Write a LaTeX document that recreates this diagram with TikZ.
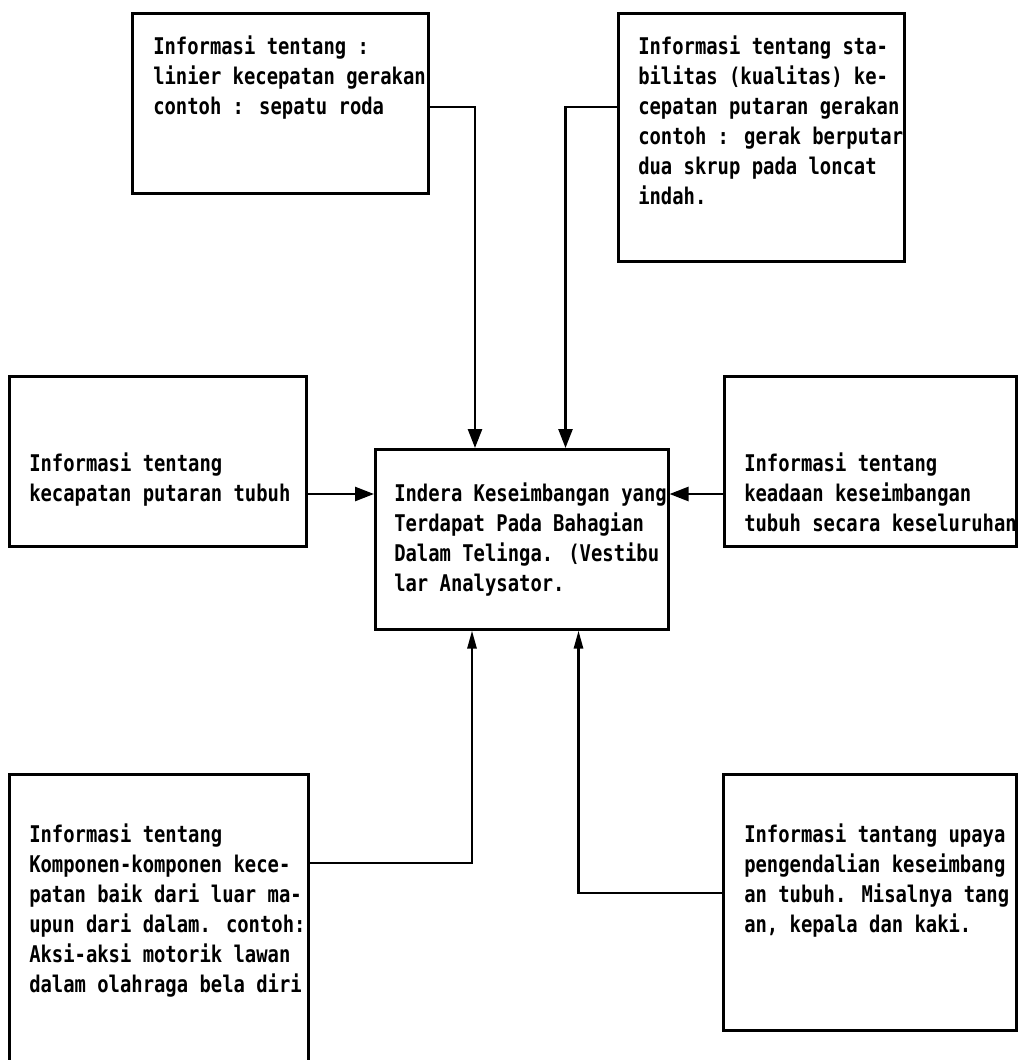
\documentclass[tikz,border=0pt]{standalone}
\usepackage{fontspec}
\usetikzlibrary{arrows.meta,positioning,calc}
\newfontfamily\ketik[FakeStretch=0.82]{DejaVu Sans Mono}

\begin{document}
\begin{tikzpicture}[x=1pt,y=-1pt,line width=2.5pt,
  kotak/.style={draw,inner sep=0pt,anchor=north west},
  teks/.style={font=\ketik\bfseries\fontsize{23}{30}\selectfont,align=left,inner sep=0pt,anchor=north west},
  panah/.style={-{Triangle[length=19pt,width=14pt]},line width=2.6pt},
  panahkecil/.style={-{Triangle[length=18pt,width=9pt]},line width=2.6pt}]
\path[use as bounding box,clip] (0,0) rectangle (1018,1060);
\fill[white] (0,0) rectangle (1018,1060);
% kotak informasi
\node[kotak,minimum width=296pt,minimum height=180pt] (linier) at (131,12) {};
\node[kotak,minimum width=286pt,minimum height=248pt] (stabil) at (617,12) {};
\node[kotak,minimum width=297pt,minimum height=170pt] (putar) at (8,375) {};
\node[kotak,minimum width=293pt,minimum height=180pt] (indera) at (374,448) {};
\node[kotak,minimum width=292pt,minimum height=170pt] (keadaan) at (723,375) {};
\node[kotak,minimum width=299pt,minimum height=291pt] (komponen) at (8,773) {};
\node[kotak,minimum width=293pt,minimum height=256pt] (kendali) at (722,773) {};
% isi kotak
\node[teks] (tlinier) at ([shift={(21,23)}]linier.north west) {Informasi tentang :\\linier kecepatan gerakan\\contoh : sepatu roda};
\node[teks] (tstabil) at ([shift={(20,23)}]stabil.north west) {Informasi tentang sta-\\bilitas (kualitas) ke-\\cepatan putaran gerakan\\contoh : gerak berputar\\dua skrup pada loncat\\indah.};
\node[teks] (tputar) at ([shift={(20,77)}]putar.north west) {Informasi tentang\\kecapatan putaran tubuh};
\node[teks] (tindera) at ([shift={(19,34)}]indera.north west) {Indera Keseimbangan yang\\Terdapat Pada Bahagian\\Dalam Telinga. (Vestibu\\lar Analysator.};
\node[teks] (tkeadaan) at ([shift={(20,77)}]keadaan.north west) {Informasi tentang\\keadaan keseimbangan\\tubuh secara keseluruhan};
\node[teks] (tkomponen) at ([shift={(20,50)}]komponen.north west) {Informasi tentang\\Komponen-komponen kece-\\patan baik dari luar ma-\\upun dari dalam. contoh:\\Aksi-aksi motorik lawan\\dalam olahraga bela diri};
\node[teks] (tkendali) at ([shift={(21,50)}]kendali.north west) {Informasi tantang upaya\\pengendalian keseimbang\\an tubuh. Misalnya tang\\an, kepala dan kaki.};
% panah ke indera
\coordinate (baris) at (0,494);
\draw[panah] ([shift={(0,95)}]linier.north east) -| ([xshift=101pt]indera.north west);
\draw[panah] ([shift={(0,95)}]stabil.north west) -| ([xshift=-104pt]indera.north east);
\draw[panah] (putar.east |- baris) -- (indera.west |- baris);
\draw[panah] (keadaan.west |- baris) -- (indera.east |- baris);
\draw[panahkecil] ([shift={(0,90)}]komponen.north east) -| ([xshift=98pt]indera.south west);
\draw[panahkecil] ([shift={(0,120)}]kendali.north west) -| ([xshift=-91pt]indera.south east);
\end{tikzpicture}
\end{document}
